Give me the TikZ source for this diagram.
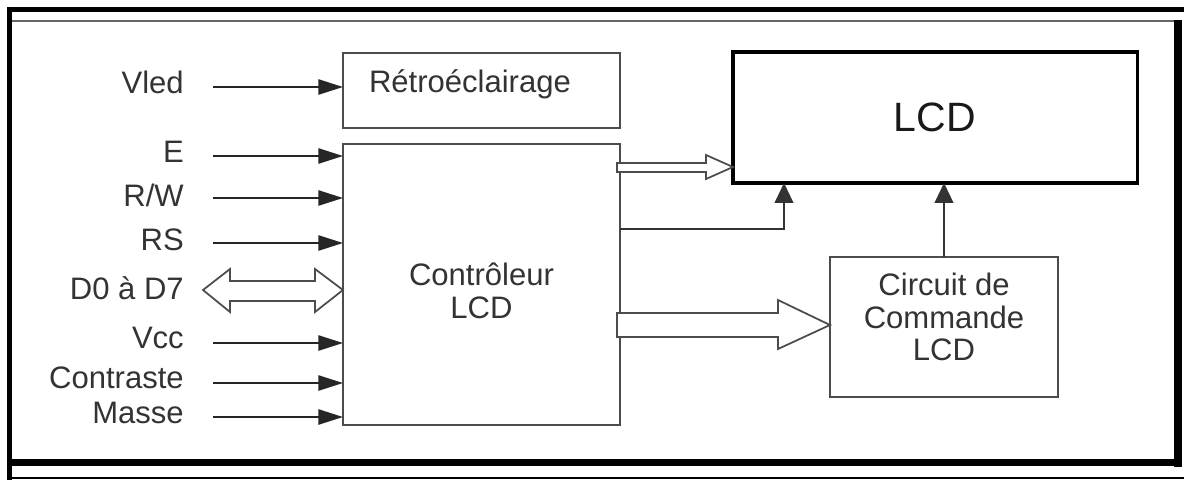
\documentclass[tikz,border=0pt]{standalone}
\usepackage{fontspec}
\setmainfont{Liberation Sans}
\usetikzlibrary{arrows.meta,calc}
\begin{document}
\begin{tikzpicture}[x=0.03cm,y=-0.03cm,
  txtfont/.style={font=\fontsize{26.5}{28}\selectfont, text=black!80},
  box/.style={draw=black!70, line width=1.7pt, inner sep=0pt, outer sep=0pt, txtfont, align=center},
  lbl/.style={txtfont, anchor=east, inner sep=0pt},
  inarrow/.style={draw=black!85, line width=1.5pt, -{Triangle[length=21pt,width=13pt]}},
  uparrow/.style={draw=black!80, line width=1.5pt, -{Triangle[length=17pt,width=16pt]}},
  hollow/.style={draw=black!70, line width=1.5pt, fill=white, line join=miter}]
\useasboundingbox (0,0) rectangle (1184,480);
% frame
\draw[line width=4.3pt] (7,9.5) -- (1184,9.5);
\draw[line width=4.3pt] (9.5,7) -- (9.5,480);
\draw[black!60, line width=2pt] (12,21) -- (1176,21);
\draw[line width=6.6pt] (1178,20) -- (1178,467);
\draw[line width=6pt] (12,462.5) -- (1182,462.5);
\draw[line width=1.3pt] (12,478) -- (1184,478);
% boxes
\node[box, minimum width=8.31cm, minimum height=2.25cm, inner xsep=0.78cm, text width=6.75cm, align=left, text height=0.66cm, text depth=0.51cm] (retro) at (481.5,90.5) {Rétroéclairage};
\node[box, minimum width=8.31cm, minimum height=8.43cm,
  label={[txtfont, align=center, yshift=-0.18cm]center:Contrôleur\\LCD}] (ctrl) at (481.5,284.5) {};
\node[box, draw=black, line width=2.6pt, minimum width=12.12cm, minimum height=3.93cm, font=\fontsize{35}{40}\selectfont, text=black!90] (lcd) at (935,117.5) {LCD};
\node[box, minimum width=6.84cm, minimum height=4.2cm,
  label={[txtfont, align=center, yshift=0.3cm]center:Circuit de\\Commande\\LCD}] (circ) at (944,327) {};
% labels
\node[lbl] (lV) at (184,82) {Vled};
\node[lbl] (lE) at (184,152) {E};
\node[lbl] (lRW) at (184,195) {R/W};
\node[lbl] (lRS) at (184,240) {RS};
\node[lbl] (lD) at (184,288) {D0 à D7};
\node[lbl] (lVcc) at (184,338) {Vcc};
\node[lbl] (lC) at (184,378) {Contraste};
\node[lbl] (lM) at (184,413) {Masse};
% input arrow starts
\coordinate (sV) at (213,87);
\coordinate (sE) at (213,156);
\coordinate (sRW) at (213,198);
\coordinate (sRS) at (213,243);
\coordinate (sVcc) at (213,343);
\coordinate (sC) at (213,383);
\coordinate (sM) at (213,417);
\draw[inarrow] (sV) -- (sV -| retro.west);
\draw[inarrow] (sE) -- (sE -| ctrl.west);
\draw[inarrow] (sRW) -- (sRW -| ctrl.west);
\draw[inarrow] (sRS) -- (sRS -| ctrl.west);
\draw[inarrow] (sVcc) -- (sVcc -| ctrl.west);
\draw[inarrow] (sC) -- (sC -| ctrl.west);
\draw[inarrow] (sM) -- (sM -| ctrl.west);
% D0 a D7 double hollow arrow
\coordinate (dL) at (203,290);
\draw[hollow] (dL) -- (230,269) -- (230,281) -- (315,281) -- (315,269) -- (dL -| ctrl.west)
  -- (315,312) -- (315,301) -- (230,301) -- (230,312) -- cycle;
% ctrl -> lcd hollow arrow
\coordinate (a1) at (0,167);
\draw[hollow] ($(a1 -| ctrl.east)+(-3,-4)$) -- (706,163) -- (706,155) -- (a1 -| lcd.west)
  -- (706,179) -- (706,172) -- ($(a1 -| ctrl.east)+(-3,5)$) -- cycle;
% ctrl -> lcd filled arrow line
\coordinate (a2) at (0,229);
\coordinate (a2x) at (784,0);
\draw[uparrow, line width=1.3pt] (a2 -| ctrl.east) -| (a2x |- lcd.south);
% circuit -> lcd
\draw[uparrow] (circ.north) -- (circ.north |- lcd.south);
% ctrl -> circuit big hollow arrow
\coordinate (a3) at (0,325);
\draw[hollow] ($(a3 -| ctrl.east)+(-3,-12)$) -- (778,313) -- (778,300) -- (a3 -| circ.west)
  -- (778,349) -- (778,337) -- ($(a3 -| ctrl.east)+(-3,12)$) -- cycle;
\end{tikzpicture}
\end{document}
